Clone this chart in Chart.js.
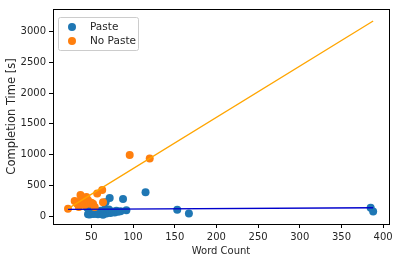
<!DOCTYPE html>
<html>
<head>
<meta charset="utf-8">
<script src="https://cdn.jsdelivr.net/npm/chart.js@4"></script>
<style>
  html, body { margin: 0; padding: 0; background: #fff; }
  #wrap { width: 401px; height: 262px; }
</style>
</head>
<body>
<div id="wrap"><canvas id="chart" width="401" height="262"></canvas></div>
<script>
const pasteWords = [46, 48, 50, 52, 53, 55, 56, 57, 58, 59, 60, 61, 62, 63, 64, 65, 66, 67, 68, 69, 70, 71, 72, 73, 75, 78, 80, 82, 85, 88, 92, 45, 115, 153, 167, 385, 388];
const pasteTimes = [30, 26, 40, 55, 35, 60, 45, 80, 30, 65, 50, 90, 40, 70, 25, 55, 110, 226, 45, 85, 60, 110, 295, 50, 75, 60, 90, 70, 80, 280, 95, 137, 390, 105, 42, 137, 74];
const noPasteWords = [22, 30, 33, 35, 37, 38, 40, 42, 44, 45, 46, 48, 50, 52, 54, 57, 63, 64, 96, 120];
const noPasteTimes = [122, 248, 200, 150, 343, 280, 258, 180, 310, 230, 258, 200, 220, 200, 148, 369, 427, 226, 992, 938];
const fitWords = [22, 388];
const pasteFit = [110, 137];
const noPasteFit = [122, 3168];
const xTicks = [50, 100, 150, 200, 250, 300, 350, 400];
const yTicks = [0, 500, 1000, 1500, 2000, 2500, 3000];

const toPoints = (xs, ys) => xs.map((x, i) => ({ x: x, y: ys[i] }));

Chart.defaults.font.family = "'DejaVu Sans', sans-serif";
Chart.defaults.font.size = 10;
Chart.defaults.color = "#262626";

const legendItems = [
    { label: "Paste", color: "#1f77b4" },
    { label: "No Paste", color: "#ff7f0e" }
];

// matplotlib-style box around the plot plus the legend inside it
const framePlugin = {
    id: "frame",
    afterDraw(chart) {
        const ctx = chart.ctx;
        const a = chart.chartArea;
        ctx.save();
        ctx.strokeStyle = "#000";
        ctx.lineWidth = 1;
        ctx.strokeRect(Math.round(a.left) + 0.5, Math.round(a.top) + 0.5,
            Math.round(a.right - a.left), Math.round(a.bottom - a.top));

        const bx = a.left + 5, by = a.top + 8, bw = 80, bh = 33;
        ctx.fillStyle = "rgba(255,255,255,0.8)";
        ctx.strokeStyle = "#cccccc";
        ctx.beginPath();
        ctx.roundRect(bx + 0.5, by + 0.5, bw, bh, 2);
        ctx.fill();
        ctx.stroke();

        ctx.font = "10.5px 'DejaVu Sans', sans-serif";
        ctx.textBaseline = "middle";
        legendItems.forEach((item, i) => {
            const cy = by + 10 + i * 14;
            ctx.fillStyle = item.color;
            ctx.beginPath();
            ctx.arc(bx + 14, cy, 4, 0, Math.PI * 2);
            ctx.fill();
            ctx.fillStyle = "#262626";
            ctx.fillText(item.label, bx + 32, cy);
        });
        ctx.restore();
    }
};

new Chart(document.getElementById("chart").getContext("2d"), {
    type: "scatter",
    data: {
        datasets: [
            {
                type: "line",
                label: "Paste fit",
                data: toPoints(fitWords, pasteFit),
                borderColor: "#0000cc",
                borderWidth: 1.3,
                pointRadius: 0,
                order: 0
            },
            {
                type: "line",
                label: "No Paste fit",
                data: toPoints(fitWords, noPasteFit),
                borderColor: "#ffa500",
                borderWidth: 1.3,
                pointRadius: 0,
                order: 0
            },
            {
                label: "No Paste",
                data: toPoints(noPasteWords, noPasteTimes),
                backgroundColor: "#ff7f0e",
                borderWidth: 0,
                pointRadius: 4,
                order: 1
            },
            {
                label: "Paste",
                data: toPoints(pasteWords, pasteTimes),
                backgroundColor: "#1f77b4",
                borderWidth: 0,
                pointRadius: 4,
                order: 2
            }
        ]
    },
    options: {
        responsive: false,
        animation: false,
        layout: { padding: { left: 5, right: 12, top: 3, bottom: 5 } },
        plugins: {
            legend: { display: false },
            tooltip: { enabled: false }
        },
        scales: {
            x: {
                type: "linear",
                min: 4,
                max: 407,
                afterBuildTicks: (axis) => { axis.ticks = xTicks.map(v => ({ value: v })); },
                afterFit: (axis) => { axis.height = 33; },
                grid: { drawOnChartArea: false, drawTicks: true, tickLength: 4, color: "#000" },
                border: { display: false },
                ticks: { padding: 3, maxRotation: 0, callback: (v) => String(v) },
                title: { display: true, text: "Word Count", padding: { top: 0, bottom: 0 } }
            },
            y: {
                type: "linear",
                min: -127,
                max: 3364,
                afterBuildTicks: (axis) => { axis.ticks = yTicks.map(v => ({ value: v })); },
                afterFit: (axis) => { axis.width = 48; },
                grid: { drawOnChartArea: false, drawTicks: true, tickLength: 4, color: "#000" },
                border: { display: false },
                ticks: { padding: 3, callback: (v) => String(v) },
                title: { display: true, text: "Completion Time [s]", font: { size: 11.5 }, padding: { top: 0, bottom: 0 } }
            }
        }
    },
    plugins: [framePlugin]
});
</script>
</body>
</html>
